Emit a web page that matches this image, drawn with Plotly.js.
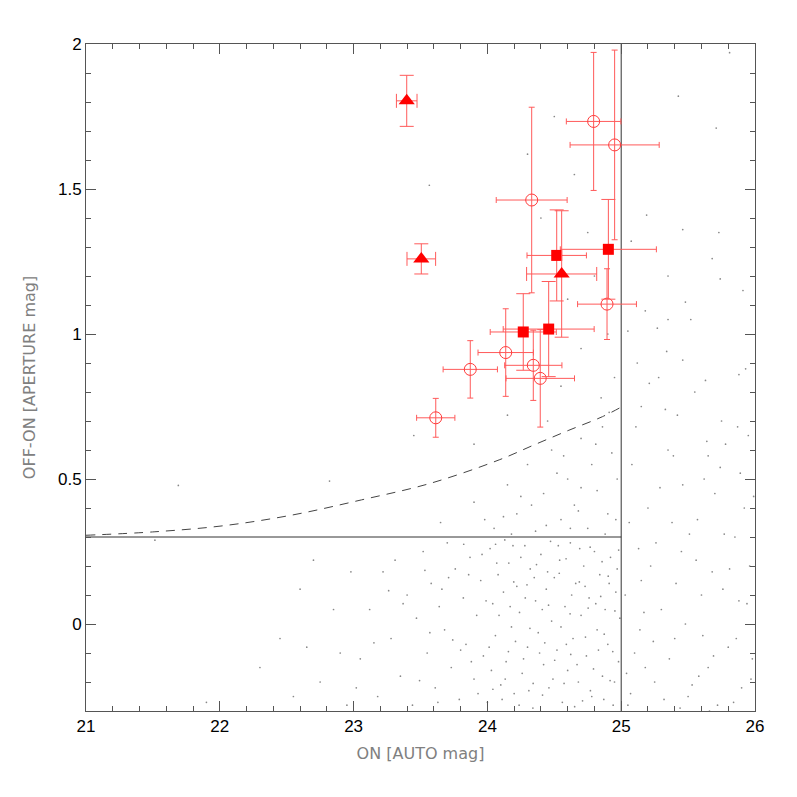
<!DOCTYPE html>
<html>
<head>
<meta charset="utf-8">
<script src="https://cdn.plot.ly/plotly-3.0.1.min.js"></script>
<style>html,body{margin:0;padding:0;background:#fff;}#chart{width:797px;height:797px;}</style>
</head>
<body>
<div id="chart"></div>
<script>
// ---- Data ----
// open circles
const circX    = [24.794, 24.951, 24.331, 24.894, 24.137, 24.343, 23.872, 24.395, 23.614];
const circY    = [1.733, 1.652, 1.462, 1.103, 0.936, 0.892, 0.878, 0.847, 0.711];
const circXErr = [0.204, 0.333, 0.265, 0.220, 0.207, 0.214, 0.203, 0.256, 0.143];
const circYErr = [0.238, 0.327, 0.320, 0.122, 0.151, 0.121, 0.099, 0.168, 0.067];
// filled squares
const sqX    = [24.518, 24.904, 24.268, 24.458];
const sqY    = [1.271, 1.292, 1.007, 1.017];
const sqXErr = [0.222, 0.359, 0.247, 0.340];
const sqYErr = [0.157, 0.172, 0.132, 0.164];
// filled triangles
const triX    = [23.397, 23.506, 24.555];
const triY    = [1.804, 1.259, 1.207];
const triXErr = [0.077, 0.107, 0.262];
const triYErr = [0.088, 0.052, 0.218];
// dashed limit curve
const curveX = [21.0, 21.515, 22.03, 22.544, 23.059, 23.573, 24.088, 24.346, 24.603, 24.86, 25.0];
const curveY = [0.306, 0.318, 0.339, 0.376, 0.428, 0.485, 0.566, 0.617, 0.667, 0.715, 0.748];
// solid cut lines
const hCutX = [21, 25];
const hCutY = [0.3, 0.3];
const vCutX = [25, 25];
const vCutY = [-0.3, 2];
// background field sources
const dotX = [
23.05,23.12,23.18,23.22,23.28,23.31,23.35,23.40,23.44,23.47,23.52,23.55,23.58,23.61,23.64,23.68,23.70,23.73,23.76,23.79,
23.82,23.84,23.87,23.90,23.92,23.95,23.97,24.00,24.02,24.04,24.06,24.08,24.10,24.12,24.14,24.16,24.18,24.20,24.22,24.24,
24.26,24.28,24.30,24.32,24.34,24.36,24.38,24.40,24.42,24.44,24.46,24.48,24.50,24.52,24.54,24.56,24.58,24.60,24.62,24.64,
24.66,24.68,24.70,24.72,24.74,24.76,24.78,24.80,24.82,24.84,24.86,24.88,24.90,24.92,24.94,24.96,24.98,24.13,24.27,24.41,
24.55,24.69,24.83,24.97,23.93,24.07,24.21,24.35,24.49,24.63,24.77,24.91,23.66,23.80,23.99,24.11,24.25,24.39,24.53,24.67,
24.81,24.95,23.57,23.86,24.03,24.17,24.31,24.45,24.59,24.73,24.87,24.99,
23.37,23.63,23.71,23.88,23.96,24.013,24.087,24.133,24.191,24.237,24.283,24.318,24.367,24.412,24.457,24.503,24.537,24.573,24.618,24.652,
24.687,24.733,24.768,24.793,24.847,24.873,24.917,24.953,24.981,24.061,24.157,24.296,24.429,24.588,24.711,24.857,24.937,23.823,23.741,23.533,
23.493,23.262,23.152,24.472,24.623,24.342,24.197,24.041,24.903,24.753,
23.65,23.90,24.05,24.15,24.22,24.30,24.36,24.42,24.48,24.55,24.60,24.65,24.70,24.75,24.78,24.82,24.86,24.90,24.93,24.97,
24.25,24.52,24.88,24.12,24.70,24.33,24.57,24.81,24.96,24.44,24.68,24.91,24.18,23.98,24.62,
24.55,24.70,24.85,24.60,24.75,24.40,24.65,24.30,24.50,24.90,24.80,24.95,23.90,24.15,24.45,23.45,21.69,22.82,23.566,
22.45,22.60,22.75,22.85,22.95,22.30,22.70,22.90,22.55,21.515,22.98,23.02,22.65,21.90,
25.05,25.10,25.15,25.20,25.25,25.30,25.35,25.40,25.45,25.50,25.55,25.60,25.65,25.70,25.75,25.80,25.85,25.90,25.95,25.08,
25.12,25.18,25.22,25.32,25.38,25.42,25.48,25.58,25.62,25.68,25.72,25.78,25.88,25.92,25.98,25.03,25.06,25.14,25.26,25.36,
25.46,25.56,25.66,25.76,25.86,25.96,25.15,25.65,
25.04,25.13,25.24,25.29,25.41,25.53,25.57,25.64,25.69,25.77,25.84,25.89,25.94,25.99,25.11,25.21,25.33,25.44,25.61,25.81,
25.93,25.07,25.17,25.39,25.51,25.74,25.87,25.97,
25.427,25.71,25.19,25.46,25.73,25.075,25.68,25.35,25.74,25.91,25.48,25.18,25.52,25.35,25.27,25.05,25.34,25.46,25.88,25.63,25.28,25.81
];
const dotY = [
-0.12,0.05,-0.25,0.18,-0.05,0.22,-0.18,0.10,-0.28,0.02,0.25,-0.10,0.14,-0.22,0.06,-0.02,0.28,-0.15,0.19,-0.26,
0.09,-0.07,0.23,-0.19,0.03,0.15,-0.11,-0.27,0.26,0.07,-0.04,0.17,-0.21,0.11,-0.13,0.21,-0.01,-0.24,0.13,0.04,
-0.17,0.27,-0.08,0.19,-0.29,0.08,-0.03,0.24,-0.14,0.12,-0.22,0.01,0.16,-0.09,0.22,-0.27,0.06,-0.16,0.28,-0.05,
0.14,-0.20,0.03,0.20,-0.11,0.09,-0.25,0.25,-0.02,0.17,-0.18,0.05,-0.07,0.23,-0.28,0.11,-0.13,0.29,-0.12,0.05,
-0.01,0.26,-0.09,0.19,-0.24,0.21,-0.06,0.16,-0.19,0.10,-0.23,0.14,0.12,-0.09,0.08,-0.26,0.23,-0.10,0.27,-0.14,
0.07,-0.20,-0.03,0.17,-0.16,0.06,-0.23,0.18,-0.07,0.13,-0.26,0.02,
0.07,-0.27,0.16,-0.13,0.24,-0.08,0.03,-0.19,0.27,-0.28,0.09,-0.015,0.205,-0.245,0.065,-0.125,0.175,-0.205,0.035,-0.285,
0.145,-0.045,0.265,-0.155,0.095,-0.035,-0.195,0.045,0.255,0.275,-0.095,0.135,-0.065,0.225,-0.265,0.215,-0.095,0.275,-0.055,0.185,
-0.195,0.115,-0.065,0.285,-0.105,-0.205,0.145,-0.225,0.165,0.055,
0.35,0.42,0.33,0.48,0.38,0.55,0.32,0.45,0.60,0.36,0.50,0.41,0.64,0.33,0.55,0.46,0.68,0.38,0.59,0.50,
0.44,0.52,0.31,0.37,0.47,0.41,0.58,0.62,0.36,0.34,0.39,0.73,0.31,0.36,0.33,
0.82,0.95,0.78,1.12,1.35,1.40,1.55,1.62,1.75,1.00,1.20,0.85,0.62,0.72,0.70,0.65,0.478,0.493,1.513,
-0.05,0.12,-0.20,0.05,-0.28,-0.15,0.22,-0.10,-0.25,0.289,0.18,-0.22,-0.08,-0.27,
-0.28,-0.10,0.15,0.40,-0.20,0.05,0.60,-0.05,0.25,-0.25,0.80,0.10,-0.15,0.45,0.70,-0.08,0.30,-0.22,0.65,0.55,
0.90,-0.15,0.20,-0.26,0.35,0.72,0.00,-0.18,0.50,0.18,-0.28,0.62,0.08,0.40,-0.12,0.10,0.35,-0.02,0.28,-0.12,
0.48,0.22,-0.30,0.12,-0.05,0.20,0.75,0.58,
-0.17,0.26,-0.06,0.47,0.14,-0.21,0.36,0.63,-0.11,0.31,-0.27,0.52,0.07,0.44,0.68,0.83,0.74,-0.29,-0.04,0.19,
0.88,-0.24,0.04,0.58,0.31,0.54,0.68,-0.19,
1.82,1.71,1.41,1.36,1.35,1.32,1.26,1.20,1.19,1.15,1.11,1.08,1.05,1.05,1.02,1.01,0.94,0.91,0.86,0.84,0.85,1.97
];

const red = '#ff0000';
const errCol = '#ff5a5a';

const data = [
  {x: dotX, y: dotY, type: 'scatter', mode: 'markers', hoverinfo: 'skip',
   marker: {size: 1.7, color: '#555555', opacity: 0.7}},
  {x: curveX, y: curveY, type: 'scatter', mode: 'lines',
   line: {color: '#444444', width: 1, dash: '9px,7px', shape: 'spline'}},
  {x: hCutX, y: hCutY, type: 'scatter', mode: 'lines', line: {color: '#333333', width: 1}},
  {x: vCutX, y: vCutY, type: 'scatter', mode: 'lines', line: {color: '#333333', width: 1}},
  {x: circX, y: circY, type: 'scatter', mode: 'markers',
   marker: {symbol: 'circle-open', size: 12, color: '#ff3a3a', line: {width: 1, color: '#ff3a3a'}},
   error_x: {type: 'data', array: circXErr, color: errCol, thickness: 1, width: 3},
   error_y: {type: 'data', array: circYErr, color: errCol, thickness: 1, width: 3}},
  {x: sqX, y: sqY, type: 'scatter', mode: 'markers',
   marker: {symbol: 'square', size: 11, color: red},
   error_x: {type: 'data', array: sqXErr, color: errCol, thickness: 1, width: 3},
   error_y: {type: 'data', array: sqYErr, color: errCol, thickness: 1, width: 7}},
  {x: triX, y: triY, type: 'scatter', mode: 'markers',
   marker: {symbol: 'triangle-up', size: 14, color: red},
   error_x: {type: 'data', array: triXErr, color: errCol, thickness: 1, width: 7},
   error_y: {type: 'data', array: triYErr, color: errCol, thickness: 1, width: 7}}
];

const axisCommon = {
  showgrid: false, zeroline: false, showline: true, linecolor: '#555555', linewidth: 1,
  mirror: 'ticks', ticks: 'inside', ticklen: 10, tickcolor: '#555555', tickwidth: 1,
  tickfont: {family: 'Liberation Sans, Arial, sans-serif', size: 17, color: '#000000'}
};

const layout = {
  width: 797, height: 797,
  margin: {l: 86, r: 42, t: 44, b: 86},
  paper_bgcolor: '#ffffff', plot_bgcolor: '#ffffff',
  showlegend: false,
  xaxis: Object.assign({}, axisCommon, {
    range: [21, 26], dtick: 1, tick0: 21,
    minor: {dtick: 0.2, ticks: 'inside', ticklen: 5, tickcolor: '#555555', showgrid: false},
    title: {text: 'ON [AUTO mag]', standoff: 12,
            font: {family: 'DejaVu Sans, sans-serif', size: 16, color: '#808080'}}
  }),
  yaxis: Object.assign({}, axisCommon, {
    range: [-0.3, 2], dtick: 0.5, tick0: 0,
    minor: {dtick: 0.1, ticks: 'inside', ticklen: 5, tickcolor: '#555555', showgrid: false},
    title: {text: 'OFF-ON [APERTURE mag]', standoff: 18,
            font: {family: 'DejaVu Sans, sans-serif', size: 16, color: '#808080'}}
  })
};

Plotly.newPlot('chart', data, layout, {displayModeBar: false, staticPlot: true});
</script>
</body>
</html>
